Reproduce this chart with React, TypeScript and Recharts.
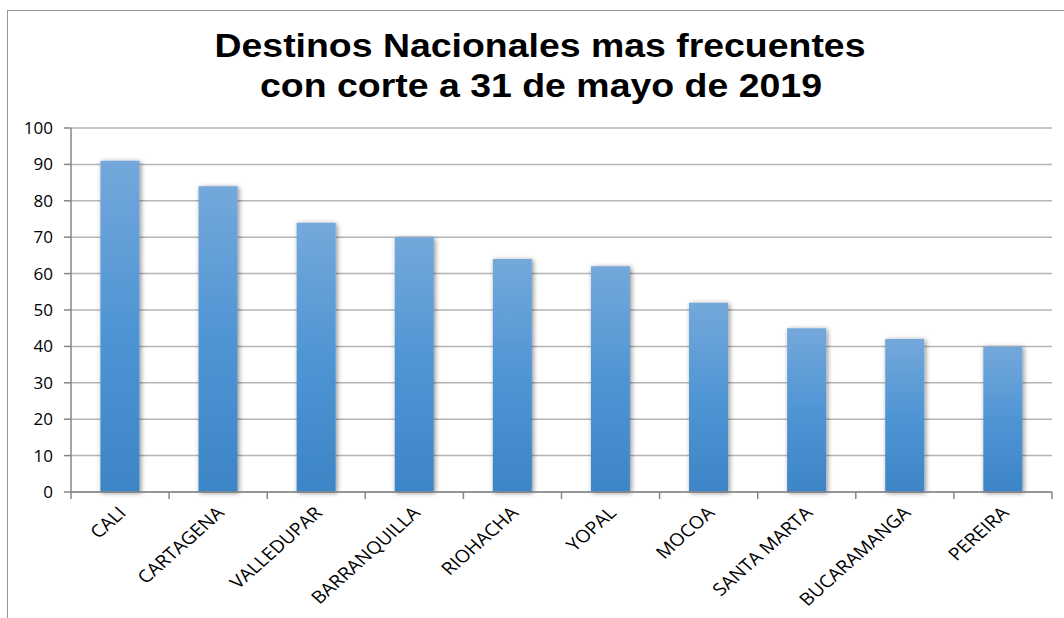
import { Bar, BarChart, CartesianGrid, XAxis, YAxis } from 'recharts';

const categories = [
  'CALI',
  'CARTAGENA',
  'VALLEDUPAR',
  'BARRANQUILLA',
  'RIOHACHA',
  'YOPAL',
  'MOCOA',
  'SANTA MARTA',
  'BUCARAMANGA',
  'PEREIRA',
];
const values = [91, 84, 74, 70, 64, 62, 52, 45, 42, 40];
const yTicks = [0, 10, 20, 30, 40, 50, 60, 70, 80, 90, 100];
const titleLines = ['Destinos Nacionales mas frecuentes', 'con corte a 31 de mayo de 2019'];

const data = categories.map((name, i) => ({ name, value: values[i] }));

const AXIS = '#868686';
const FONT = '"Open Sans", "Liberation Sans", sans-serif';

// x axis: tick marks sit between the categories (Excel style), labels at -45deg
function CategoryTick(props: any) {
  const { x, y, payload, index, width } = props;
  const half = (Number(width) > 0 ? width : 981) / categories.length / 2;
  const ax = x + 7;
  const ay = y + 22;
  return (
    <g>
      <line x1={x - half} y1={y} x2={x - half} y2={y + 7} stroke={AXIS} strokeWidth={1.5} />
      {index === categories.length - 1 && (
        <line x1={x + half} y1={y} x2={x + half} y2={y + 7} stroke={AXIS} strokeWidth={1.5} />
      )}
      {/* the source image is stretched sideways a little, so the labels are too */}
      <text
        x={0}
        y={0}
        textAnchor="end"
        transform={`translate(${ax}, ${ay}) scale(1.12, 1) rotate(-45)`}
        fontSize={17.5}
        fontFamily={FONT}
        fill="#000"
      >
        {payload.value}
      </text>
    </g>
  );
}

export default function App() {
  return (
    <div style={{ position: 'absolute', left: 0, top: 0, width: 1064, height: 618, overflow: 'hidden', background: '#fff' }}>
      <div
        style={{
          position: 'absolute',
          left: 7,
          top: 10,
          width: 1200,
          height: 800,
          border: '1.5px solid #979797',
        }}
      />
      <svg width={1064} height={120} style={{ position: 'absolute', left: 0, top: 0, pointerEvents: 'none' }}>
        <text
          x={540}
          y={57}
          textAnchor="middle"
          fontFamily='"Liberation Sans", Arial, sans-serif'
          fontWeight="bold"
          fontSize={33}
          textLength={651}
          lengthAdjust="spacingAndGlyphs"
          fill="#000"
        >
          {titleLines[0]}
        </text>
        <text
          x={541}
          y={97}
          textAnchor="middle"
          fontFamily='"Liberation Sans", Arial, sans-serif'
          fontWeight="bold"
          fontSize={33}
          textLength={562}
          lengthAdjust="spacingAndGlyphs"
          fill="#000"
        >
          {titleLines[1]}
        </text>
      </svg>
      <div style={{ position: 'absolute', left: 0, top: 0 }}>
        <BarChart
          width={1064}
          height={618}
          data={data}
          margin={{ top: 128, right: 12, bottom: 0, left: 0 }}
          barCategoryGap="30%"
        >
          <defs>
            <linearGradient id="barFill" x1="0" y1="0" x2="0" y2="1">
              <stop offset="0%" stopColor="#74a8db" />
              <stop offset="50%" stopColor="#4f95d4" />
              <stop offset="100%" stopColor="#3d85c6" />
            </linearGradient>
            <filter id="barShadow" x="-30%" y="-10%" width="160%" height="120%">
              <feDropShadow dx="1.5" dy="1" stdDeviation="2.5" floodColor="#000" floodOpacity="0.45" />
            </filter>
          </defs>
          <CartesianGrid vertical={false} stroke="#b5b5b5" strokeWidth={1.5} />
          <XAxis
            dataKey="name"
            height={126}
            interval={0}
            tickSize={0}
            tickMargin={0}
            axisLine={{ stroke: AXIS, strokeWidth: 1.5 }}
            tickLine={false}
            tick={<CategoryTick />}
          />
          <YAxis
            width={71}
            domain={[0, 100]}
            ticks={yTicks}
            interval={0}
            tickSize={7}
            tickMargin={11}
            axisLine={{ stroke: AXIS, strokeWidth: 1.5 }}
            tickLine={{ stroke: AXIS, strokeWidth: 1.5 }}
            tick={{ fill: '#000', fontSize: 17, fontFamily: FONT }}
          />
          <Bar dataKey="value" fill="url(#barFill)" filter="url(#barShadow)" isAnimationActive={false} />
        </BarChart>
      </div>
    </div>
  );
}
